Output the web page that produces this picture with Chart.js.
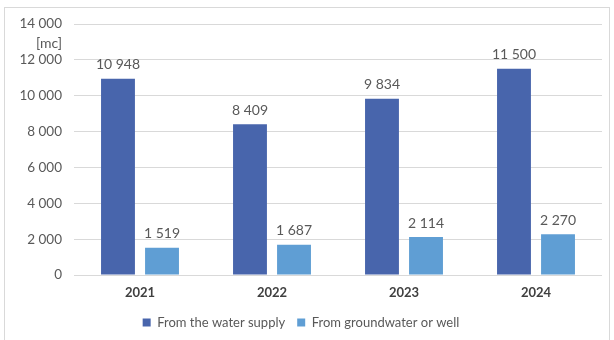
<!DOCTYPE html>
<html>
<head>
<meta charset="utf-8">
<script src="https://cdn.jsdelivr.net/npm/chart.js@4"></script>
<style>
    body { margin: 0; background: #fff; }
    #wrap { position: relative; width: 614px; height: 340px; }
    #frame { position: absolute; left: 4px; top: 7px; width: 606px; height: 340px; border: 1px solid #d9d9d9; box-sizing: border-box; }
    canvas { position: absolute; left: 0; top: 0; }
</style>
</head>
<body>
<div id="wrap">
    <div id="frame"></div>
    <canvas id="chart" width="614" height="340"></canvas>
</div>
<script>
const years = ["2021", "2022", "2023", "2024"];
const water_supply = [10948, 8409, 9834, 11500];
const groundwater = [1519, 1687, 2114, 2270];
const series_names = ["From the water supply", "From groundwater or well"];
const unit_label = "[mc]";

const font_family = "Lato, 'DejaVu Sans', sans-serif";

// 10948 -> "10 948"
function format_num(v) {
    return String(v).replace(/\B(?=(\d{3})+(?!\d))/g, " ");
}

// value labels above the bars + unit label next to the y axis
const labels_plugin = {
    id: 'labels_plugin',
    afterDatasetsDraw(chart) {
        const ctx = chart.ctx;
        ctx.save();
        ctx.font = "14px " + font_family;
        ctx.fillStyle = "#595959";
        ctx.textAlign = "center";
        ctx.textBaseline = "middle";
        chart.data.datasets.forEach((ds, i) => {
            chart.getDatasetMeta(i).data.forEach((bar, j) => {
                ctx.fillText(format_num(ds.data[j]), bar.x, bar.y - 14);
            });
        });
        const y_scale = chart.scales.y;
        ctx.font = "14px " + font_family;
        ctx.textAlign = "right";
        ctx.fillText(unit_label, y_scale.right - 12, y_scale.getPixelForValue(12900));
        ctx.restore();
    }
};

let chart = new Chart(
    document.getElementById('chart'),
    {
        type: 'bar',
        data: {
            labels: years,
            datasets: [
                {
                    label: series_names[0],
                    data: water_supply,
                    backgroundColor: "#4865ac",
                    categoryPercentage: 0.667,
                    barPercentage: 0.77
                },
                {
                    label: series_names[1],
                    data: groundwater,
                    backgroundColor: "#5f9ed4",
                    categoryPercentage: 0.667,
                    barPercentage: 0.77
                }
            ]
        },
        options: {
            responsive: false,
            animation: false,
            layout: {
                padding: { left: 0, right: 12, top: 24, bottom: 1 }
            },
            scales: {
                x: {
                    afterFit: function (scale) {
                        scale.height = 29;
                    },
                    grid: { display: false },
                    border: { display: false },
                    ticks: {
                        color: "#404040",
                        font: { family: font_family, size: 13, weight: 'bold' },
                        padding: 2
                    }
                },
                y: {
                    min: 0,
                    max: 14000,
                    afterFit: function (scale) {
                        scale.width = 74;
                    },
                    grid: { color: "#d9d9d9", drawTicks: false },
                    border: { display: false },
                    ticks: {
                        stepSize: 2000,
                        color: "#595959",
                        padding: 12,
                        font: { family: font_family, size: 13.5 },
                        callback: function (value) {
                            return format_num(value);
                        }
                    }
                }
            },
            plugins: {
                legend: {
                    position: 'bottom',
                    labels: {
                        boxWidth: 8,
                        boxHeight: 8,
                        padding: 12,
                        color: "#595959",
                        font: { family: font_family, size: 13 }
                    }
                },
                tooltip: { enabled: false }
            }
        },
        plugins: [labels_plugin]
    }
);
</script>
</body>
</html>
